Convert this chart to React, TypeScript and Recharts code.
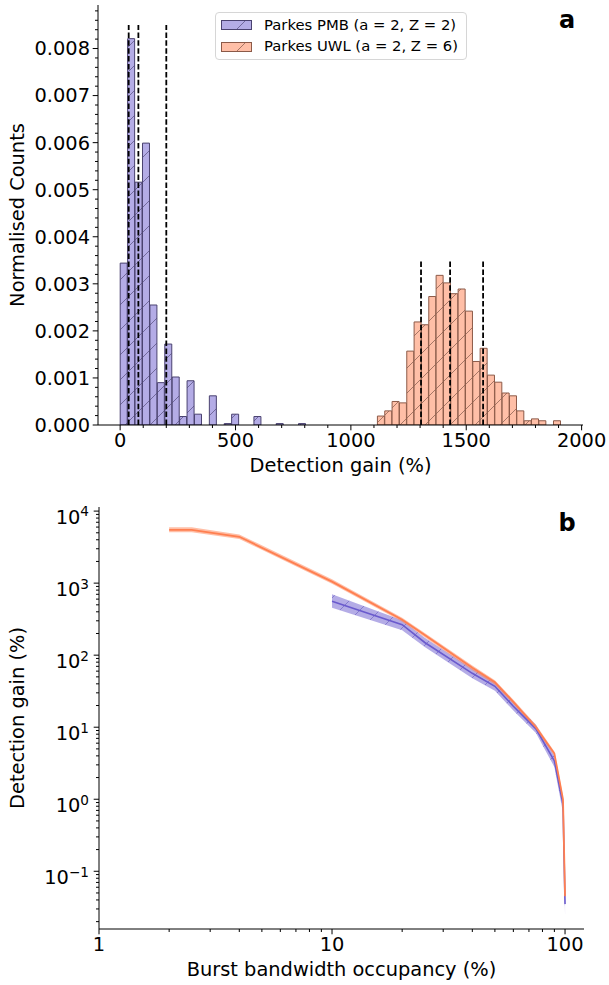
import React from 'react';
import {
  ComposedChart,
  Bar,
  XAxis,
  YAxis,
  ReferenceLine,
  Area,
  Line,
  Legend,
} from 'recharts';

// ---------- Panel a: histogram ----------
const pmbCenters = [16.1, 48.3, 80.5, 112.7, 144.9, 177.1, 209.3, 241.5, 273.7, 305.9, 338.1, 370.3, 402.5, 434.7, 466.9, 499.1, 531.3, 563.5, 595.7, 627.9, 660.1, 692.3, 724.5, 756.7, 788.9];
const pmbCounts = [0.00344, 0.00821, 0.00516, 0.00599, 0.00255, 0.0009, 0.00172, 0.00102, 0.00018, 0.00094, 0.00023, 0, 0.00062, 0, 0.00003, 0.00023, 0, 0, 0.00018, 0, 0, 0.00003, 0, 0, 0.00003];
const uwlCenters = [1130.9, 1162.7, 1194.5, 1226.3, 1258.1, 1289.9, 1321.7, 1353.5, 1385.3, 1417.1, 1448.9, 1480.7, 1512.5, 1544.3, 1576.1, 1607.9, 1639.7, 1671.5, 1703.3, 1735.1, 1766.9, 1798.7, 1830.5, 1862.3, 1894.1];
const uwlCounts = [0.00019, 0.0003, 0.0005, 0.00047, 0.00157, 0.00219, 0.00213, 0.00273, 0.00318, 0.00302, 0.00279, 0.00289, 0.00242, 0.00135, 0.00163, 0.00106, 0.00091, 0.00068, 0.00062, 0.0003, 0.00009, 0.00013, 0.00009, 0, 0.00009];
const pmbPercentiles = [37, 79, 200];
const uwlPercentiles = [1304, 1430, 1573];
const pmbLineTop = 0.0085;
const uwlLineTop = 0.0035;
const histXTicks = [0, 500, 1000, 1500, 2000];
const histXMinor = [100, 200, 300, 400, 600, 700, 800, 900, 1100, 1200, 1300, 1400, 1600, 1700, 1800, 1900];
const histYTicks = [0, 0.001, 0.002, 0.003, 0.004, 0.005, 0.006, 0.007, 0.008];
const histYMinor = [0.0002, 0.0004, 0.0006, 0.0008, 0.0012, 0.0014, 0.0016, 0.0018, 0.0022, 0.0024, 0.0026, 0.0028, 0.0032, 0.0034, 0.0036, 0.0038, 0.0042, 0.0044, 0.0046, 0.0048, 0.0052, 0.0054, 0.0056, 0.0058, 0.0062, 0.0064, 0.0066, 0.0068, 0.0072, 0.0074, 0.0076, 0.0078, 0.0082, 0.0084, 0.0086, 0.0088];
const pmbName = 'Parkes PMB (a = 2, Z = 2)';
const uwlName = 'Parkes UWL (a = 2, Z = 6)';

// ---------- Panel b: detection gain vs occupancy ----------
const uwlOccX = [2, 2.5, 4, 10, 20, 25, 40, 50, 60, 75, 90, 98, 100];
const uwlGain = [5500, 5500, 4400, 1050, 310, 190, 67, 42, 22.5, 10, 4.3, 1.0, 0.045];
const uwlGainLo = [5100, 5100, 4100, 980, 290, 178, 62, 39, 21, 9.3, 4.0, 0.9, 0.04];
const uwlGainHi = [5950, 5950, 4750, 1130, 330, 203, 72, 45, 24, 10.8, 4.6, 1.1, 0.05];
const pmbOccX = [10, 20, 25, 40, 50, 60, 75, 90, 98, 100];
const pmbGain = [560, 265, 150, 56, 37, 19.5, 9.5, 3.4, 0.85, 0.035];
const pmbGainLo = [455, 222, 130, 48, 32, 17, 8.3, 2.8, 0.65, 0.025];
const pmbGainHi = [700, 306, 175, 65, 42, 22, 10.8, 4.0, 1.0, 0.047];
const occXTicks = [1, 10, 100];
const occXMinor = [2, 3, 4, 5, 6, 7, 8, 9, 20, 30, 40, 50, 60, 70, 80, 90];
const gainYTicks = [0.1, 1, 10, 100, 1000, 10000];
const gainYMinor = [0.02, 0.03, 0.04, 0.05, 0.06, 0.07, 0.08, 0.09, 0.2, 0.3, 0.4, 0.5, 0.6, 0.7, 0.8, 0.9, 2, 3, 4, 5, 6, 7, 8, 9, 20, 30, 40, 50, 60, 70, 80, 90, 200, 300, 400, 500, 600, 700, 800, 900, 2000, 3000, 4000, 5000, 6000, 7000, 8000, 9000];

const histData = [
  ...pmbCenters.map((x, i) => ({ x, pmb: pmbCounts[i], uwl: 0 })),
  ...uwlCenters.map((x, i) => ({ x, pmb: 0, uwl: uwlCounts[i] })),
];
const uwlLineData = uwlOccX.map((x, i) => ({ x, y: uwlGain[i], band: [uwlGainLo[i], uwlGainHi[i]] }));
const pmbLineData = pmbOccX.map((x, i) => ({ x, y: pmbGain[i], band: [pmbGainLo[i], pmbGainHi[i]] }));

const FONT = "'DejaVu Sans', 'Liberation Sans', sans-serif";
const TICK_FS = 19.4;
const PURPLE = '#6A5ACD';
const CORAL = '#FF7F50';
const PMB_FILL = '#B4ACE6';
const UWL_FILL = '#FFBFA7';
const PMB_EDGE = '#4a4270';
const UWL_EDGE = '#8c5a48';
const TICK_SIZE = 5;
const TICK_MARGIN = 3;
const MAJOR_LEN = 5.3;
const MINOR_LEN = 3;

const isIn = (arr: number[], v: number) => arr.some((t) => Math.abs(t - v) < 1e-9 * Math.max(1, Math.abs(t)));

// X-axis tick: draws its own tick mark (major or minor) and a label for majors
const makeXTick = (majors: number[], fmt: (v: number) => string, margin: number) => (props: any) => {
  const { x, y, payload } = props;
  const major = isIn(majors, payload.value);
  const axisY = y - TICK_SIZE - margin;
  return (
    <g>
      <line x1={x} x2={x} y1={axisY} y2={axisY + (major ? MAJOR_LEN : MINOR_LEN)} stroke="#000" strokeWidth={1} />
      {major && (
        <text x={x} y={y} dy="0.71em" textAnchor="middle" fontFamily={FONT} fontSize={TICK_FS} fill="#000">
          {fmt(payload.value)}
        </text>
      )}
    </g>
  );
};

const makeYTick = (majors: number[], margin: number, pow: boolean) => (props: any) => {
  const { x, y, payload } = props;
  const major = isIn(majors, payload.value);
  const axisX = x + TICK_SIZE + margin;
  let label: React.ReactNode = null;
  if (major) {
    if (pow) {
      const exp = Math.round(Math.log10(payload.value));
      const expStr = exp < 0 ? '\u2212' + String(-exp) : String(exp);
      label = (
        <text x={x} y={y} textAnchor="end" fontFamily={FONT} fill="#000">
          <tspan fontSize={TICK_FS} dy={12.8}>10</tspan>
          <tspan fontSize={13.6} dy={-7.4}>{expStr}</tspan>
        </text>
      );
    } else {
      label = (
        <text x={x} y={y} dy="0.355em" textAnchor="end" fontFamily={FONT} fontSize={TICK_FS} fill="#000">
          {payload.value.toFixed(3)}
        </text>
      );
    }
  }
  return (
    <g>
      <line x1={axisX} x2={axisX - (major ? MAJOR_LEN : MINOR_LEN)} y1={y} y2={y} stroke="#000" strokeWidth={1} />
      {label}
    </g>
  );
};

const HistLegend = (props: any) => {
  const items = props.payload || [];
  return (
    <div
      style={{
        position: 'relative',
        width: 252,
        height: 48,
        boxSizing: 'border-box',
        border: '1px solid #d6d6d6',
        borderRadius: 4,
        background: 'rgba(255,255,255,0.8)',
        fontFamily: FONT,
        fontSize: 14.8,
        color: '#000',
      }}
    >
      {items.map((it: any, i: number) => {
        const isPmb = it.value === pmbName;
        return (
          <div key={i} style={{ position: 'absolute', left: 0, top: 1 + i * 21.7, height: 21.7, width: 250 }}>
            <svg width={32} height={11} style={{ position: 'absolute', left: 5, top: 6 }}>
              <rect
                x={0.5}
                y={0.5}
                width={30}
                height={9}
                fill={isPmb ? 'url(#hatchPmb)' : 'url(#hatchUwl)'}
                stroke={isPmb ? PMB_EDGE : UWL_EDGE}
                strokeWidth={1}
              />
            </svg>
            <span style={{ position: 'absolute', left: 48, top: 1.5, whiteSpace: 'nowrap', lineHeight: '18px' }}>{it.value}</span>
          </div>
        );
      })}
    </div>
  );
};

const xTitle = (text: string, off: number) => (p: any) => {
  const vb = p.viewBox || {};
  return (
    <text x={vb.x + vb.width / 2} y={vb.y + off} textAnchor="middle" fontFamily={FONT} fontSize={TICK_FS} fill="#000">
      {text}
    </text>
  );
};
const yTitle = (text: string, cx: number) => (p: any) => {
  const vb = p.viewBox || {};
  const cy = vb.y + vb.height / 2;
  return (
    <text
      x={cx}
      y={cy}
      transform={`rotate(-90 ${cx} ${cy})`}
      textAnchor="middle"
      dominantBaseline="central"
      fontFamily={FONT}
      fontSize={TICK_FS}
      fill="#000"
    >
      {text}
    </text>
  );
};

const histXTickEl = makeXTick(histXTicks, (v) => String(v), TICK_MARGIN);
const histYTickEl = makeYTick(histYTicks, TICK_MARGIN, false);
const occXTickEl = makeXTick(occXTicks, (v) => String(v), TICK_MARGIN);
const gainYTickEl = makeYTick(gainYTicks, 5, true);

export default function App() {
  return (
    <div style={{ position: 'absolute', left: 0, top: 0, width: 609, height: 985, background: '#fff' }}>
      <svg width={0} height={0} style={{ position: 'absolute' }}>
        <defs>
          <pattern id="hatchPmb" patternUnits="userSpaceOnUse" width={25} height={25}>
            <rect width={25} height={25} fill={PMB_FILL} />
            <path d="M-5,5 L5,-5 M0,25 L25,0 M20,30 L30,20" stroke="#2a2250" strokeOpacity={0.55} strokeWidth={0.9} />
          </pattern>
          <pattern id="hatchUwl" patternUnits="userSpaceOnUse" width={25} height={25}>
            <rect width={25} height={25} fill={UWL_FILL} />
            <path d="M-5,5 L5,-5 M0,25 L25,0 M20,30 L30,20" stroke="#4a2a20" strokeOpacity={0.55} strokeWidth={0.9} />
          </pattern>
          <pattern id="hatchBand" patternUnits="userSpaceOnUse" width={20} height={20}>
            <rect width={20} height={20} fill={PURPLE} fillOpacity={0.5} />
            <path d="M-5,5 L5,-5 M0,20 L20,0 M15,25 L25,15" stroke="#4a3db0" strokeOpacity={0.5} strokeWidth={0.9} />
          </pattern>
        </defs>
      </svg>

      {/* Panel a */}
      <div style={{ position: 'absolute', left: 0, top: 0 }}>
        <ComposedChart
          width={609}
          height={490}
          data={histData}
          margin={{ top: 5, right: 26, bottom: 0, left: 0 }}
          barCategoryGap={0}
          barGap={0}
        >
          <XAxis
            xAxisId="main"
            dataKey="x"
            type="number"
            domain={[-96, 2006]}
            allowDataOverflow
            ticks={[...histXTicks, ...histXMinor]}
            interval={0}
            tick={histXTickEl}
            tickLine={{ stroke: 'none' }}
            tickSize={TICK_SIZE}
            tickMargin={TICK_MARGIN}
            stroke="#000"
            height={65}
            label={{ content: xTitle('Detection gain (%)', 47) }}
          />
          <YAxis
            yAxisId="main"
            type="number"
            domain={[0, 0.008925]}
            allowDataOverflow
            ticks={[...histYTicks, ...histYMinor]}
            interval={0}
            tick={histYTickEl}
            tickLine={{ stroke: 'none' }}
            tickSize={TICK_SIZE}
            tickMargin={TICK_MARGIN}
            stroke="#000"
            width={98}
            label={{ content: yTitle('Normalised Counts', 17) }}
          />
          <Bar
            xAxisId="main"
            yAxisId="main"
            dataKey="pmb"
            name={pmbName}
            stackId="h"
            fill="url(#hatchPmb)"
            stroke={PMB_EDGE}
            strokeWidth={1}
            isAnimationActive={false}
          />
          <Bar
            xAxisId="main"
            yAxisId="main"
            dataKey="uwl"
            name={uwlName}
            stackId="h"
            fill="url(#hatchUwl)"
            stroke={UWL_EDGE}
            strokeWidth={1}
            isAnimationActive={false}
          />
          {pmbPercentiles.map((v) => (
            <ReferenceLine
              key={'p' + v}
              xAxisId="main"
              yAxisId="main"
              segment={[{ x: v, y: 0 }, { x: v, y: pmbLineTop }]}
              stroke="#000"
              strokeWidth={1.8}
              strokeDasharray="5.5 2.4"
            />
          ))}
          {uwlPercentiles.map((v) => (
            <ReferenceLine
              key={'u' + v}
              xAxisId="main"
              yAxisId="main"
              segment={[{ x: v, y: 0 }, { x: v, y: uwlLineTop }]}
              stroke="#000"
              strokeWidth={1.8}
              strokeDasharray="5.5 2.4"
            />
          ))}
          <Legend
            layout="vertical"
            verticalAlign="middle"
            align="center"
            content={<HistLegend />}
            wrapperStyle={{ position: 'absolute', left: 215, top: 12, width: 252, height: 48 }}
          />
        </ComposedChart>
      </div>

      {/* Panel b */}
      <div style={{ position: 'absolute', left: 0, top: 490 }}>
        <ComposedChart width={609} height={495} margin={{ top: 17, right: 25, bottom: 0, left: 0 }}>
          <XAxis
            xAxisId="main"
            dataKey="x"
            type="number"
            scale="log"
            domain={[1, 120.6]}
            allowDataOverflow
            ticks={[...occXTicks, ...occXMinor]}
            interval={0}
            tick={occXTickEl}
            tickLine={{ stroke: 'none' }}
            tickSize={TICK_SIZE}
            tickMargin={TICK_MARGIN}
            stroke="#000"
            height={56}
            label={{ content: xTitle('Burst bandwidth occupancy (%)', 47) }}
          />
          <YAxis
            yAxisId="main"
            type="number"
            scale="log"
            domain={[0.0158, 11400]}
            allowDataOverflow
            ticks={[...gainYTicks, ...gainYMinor]}
            interval={0}
            tick={gainYTickEl}
            tickLine={{ stroke: 'none' }}
            tickSize={TICK_SIZE}
            tickMargin={5}
            stroke="#000"
            width={99}
            label={{ content: yTitle('Detection gain (%)', 17) }}
          />
          <Area
            xAxisId="main"
            yAxisId="main"
            data={pmbLineData}
            dataKey="band"
            type="linear"
            fill="url(#hatchBand)"
            fillOpacity={1}
            stroke="none"
            isAnimationActive={false}
            activeDot={false}
          />
          <Line
            xAxisId="main"
            yAxisId="main"
            data={pmbLineData}
            dataKey="y"
            type="linear"
            stroke={PURPLE}
            strokeWidth={1.6}
            dot={false}
            activeDot={false}
            isAnimationActive={false}
          />
          <Area
            xAxisId="main"
            yAxisId="main"
            data={uwlLineData}
            dataKey="band"
            type="linear"
            fill={CORAL}
            fillOpacity={0.5}
            stroke="none"
            isAnimationActive={false}
            activeDot={false}
          />
          <Line
            xAxisId="main"
            yAxisId="main"
            data={uwlLineData}
            dataKey="y"
            type="linear"
            stroke={CORAL}
            strokeWidth={1.8}
            dot={false}
            activeDot={false}
            isAnimationActive={false}
          />
        </ComposedChart>
      </div>

      {/* panel letters */}
      <svg width={609} height={985} style={{ position: 'absolute', left: 0, top: 0, pointerEvents: 'none' }}>
        <text x={567} y={28} textAnchor="middle" fontFamily={FONT} fontWeight="bold" fontSize={24} fill="#000">a</text>
        <text x={567} y={531} textAnchor="middle" fontFamily={FONT} fontWeight="bold" fontSize={24} fill="#000">b</text>
      </svg>
    </div>
  );
}
